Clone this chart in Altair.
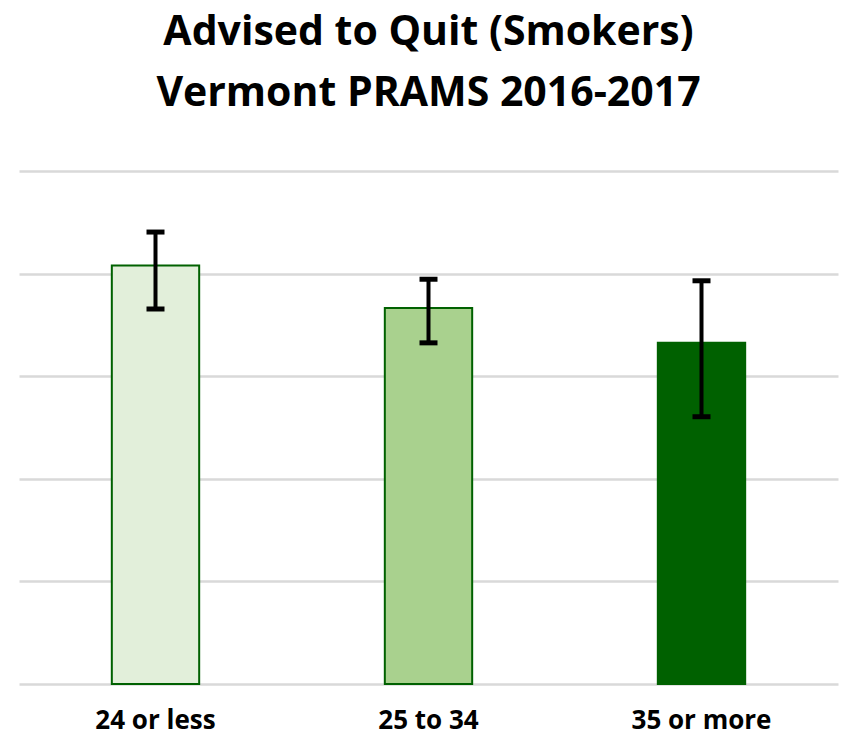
import altair as alt
import pandas as pd

categories = ["24 or less", "25 to 34", "35 or more"]
values = [81.6, 73.3, 66.5]
lower = [73.1, 66.5, 52.1]
upper = [88.1, 78.9, 78.6]
fills = ["#E2EFDA", "#A9D18E", "#006100"]
strokes = ["#006100", "#006100", "#006100"]

df = pd.DataFrame({
    "cat": categories,
    "value": values,
    "lo": lower,
    "hi": upper,
    "fill": fills,
    "stroke": strokes,
})

x = alt.X("cat:N", sort=categories, title=None,
          scale=alt.Scale(paddingInner=0.68, paddingOuter=0.34),
          axis=alt.Axis(labelAngle=0, labelFont="Open Sans", labelFontWeight="bold",
                        labelFontSize=26, labelColor="#000000", labelPadding=23,
                        domain=False, ticks=False, grid=False))
y_scale = alt.Scale(domain=[0, 100], nice=False)

base = alt.Chart(df)

bars = base.mark_bar(strokeWidth=2).encode(
    x=x,
    y=alt.Y("value:Q", scale=y_scale, title=None,
            axis=alt.Axis(values=[0, 20, 40, 60, 80, 100], labels=False, ticks=False,
                          domain=False, grid=True, gridColor="#D9D9D9", gridWidth=2.5)),
    fill=alt.Fill("fill:N", scale=None),
    stroke=alt.Stroke("stroke:N", scale=None),
)

rules = base.mark_rule(color="#000000", strokeWidth=4).encode(
    x=alt.X("cat:N", sort=categories),
    y=alt.Y("lo:Q", scale=y_scale),
    y2="hi:Q",
)

caps_lo = base.mark_tick(color="#000000", opacity=1, thickness=5, size=18,
                         orient="horizontal").encode(
    x=alt.X("cat:N", sort=categories),
    y=alt.Y("lo:Q", scale=y_scale),
)
caps_hi = base.mark_tick(color="#000000", opacity=1, thickness=5, size=18,
                         orient="horizontal").encode(
    x=alt.X("cat:N", sort=categories),
    y=alt.Y("hi:Q", scale=y_scale),
)

chart = alt.layer(bars, rules, caps_lo, caps_hi).properties(
    width=819,
    height=513,
    autosize=alt.AutoSizeParams(type="none"),
    padding={"left": 11, "top": 163, "right": 6, "bottom": 55},
    title=alt.TitleParams(
        text="Advised to Quit (Smokers)",
        subtitle="Vermont PRAMS 2016-2017",
        font="Open Sans", fontSize=41, fontWeight="bold", color="#000000",
        subtitleFont="Open Sans", subtitleFontSize=41, subtitleFontWeight="bold",
        subtitleColor="#000000", subtitlePadding=20,
        anchor="middle", offset=56,
    ),
).configure_view(stroke=None)

chart.save("out.html", embed_options={"renderer": "svg", "actions": False})
